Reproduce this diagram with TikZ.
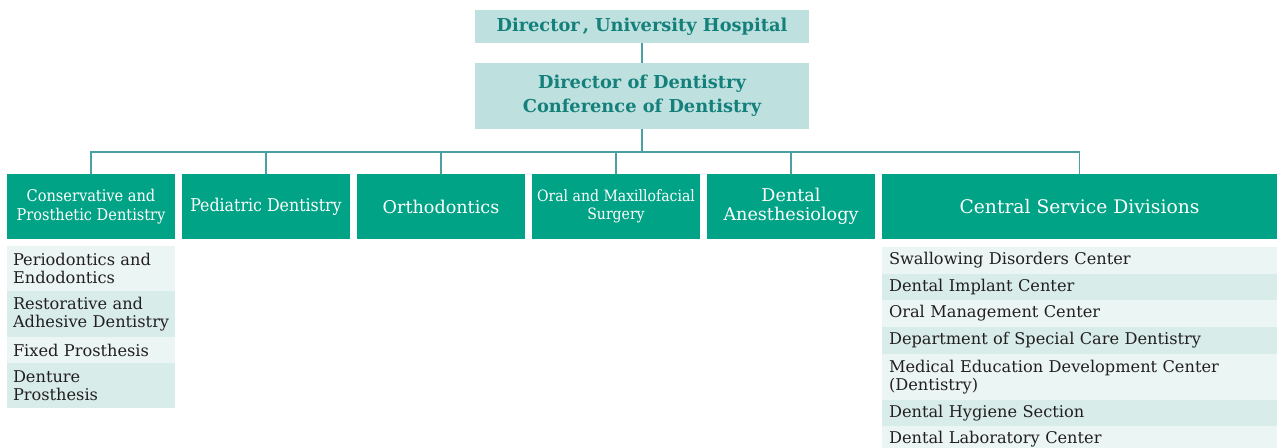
\documentclass[tikz,border=0pt]{standalone}
\usepackage{fontspec}
\setmainfont{DejaVu Serif}
\newfontfamily\condfont{DejaVu Serif Condensed}
\hyphenpenalty=10000
\exhyphenpenalty=10000
\hbadness=10000
\hfuzz=20pt
\definecolor{titlebg}{HTML}{BEE0DE}
\definecolor{titlefg}{HTML}{14807B}
\definecolor{deptbg}{HTML}{00A385}
\definecolor{connc}{HTML}{4AA0A3}
\definecolor{rowa}{HTML}{EBF5F4}
\definecolor{rowb}{HTML}{D8ECE9}
\definecolor{rowtext}{HTML}{231F20}
\tikzset{
  titlebox/.style={fill=titlebg, text=titlefg, font=\bfseries\fontsize{17.8}{24}\selectfont, align=center, inner sep=0pt, minimum width=334pt},
  deptbox/.style={fill=deptbg, text=white, align=center, inner sep=0pt, minimum height=65pt},
  rowbox/.style={inner sep=0pt, text=rowtext, font=\fontsize{16.2}{18.5}\selectfont, align=left},
  conn/.style={draw=connc, line width=1.4pt}
}
\begin{document}
\begin{tikzpicture}[x=1pt,y=-1pt]
\useasboundingbox (0,0) rectangle (1282,447);
\clip (0,0) rectangle (1282,447);
% titles
\node[titlebox, minimum height=33pt] (hosp) at (642,26.5) {Director\,, University Hospital};
\node[titlebox, minimum height=66pt] (dent) at (642,96) {Director of Dentistry\\Conference of Dentistry};
% departments
\node[deptbox, minimum width=168pt, font=\condfont\fontsize{16.2}{18.5}\selectfont] (d1) at (91,206.5) {Conservative and\\Prosthetic Dentistry};
\node[deptbox, minimum width=168pt, font=\condfont\fontsize{17.6}{19}\selectfont] (d2) at (266,206.5) {Pediatric Dentistry};
\node[deptbox, minimum width=168pt, font=\fontsize{17.6}{19}\selectfont] (d3) at (441,206.5) {Orthodontics};
\node[deptbox, minimum width=168pt, font=\condfont\fontsize{15.6}{18.5}\selectfont] (d4) at (616,206.5) {Oral and Maxillofacial\\Surgery};
\node[deptbox, minimum width=168pt, font=\fontsize{17.6}{18.5}\selectfont] (d5) at (791,206.5) {Dental\\Anesthesiology};
\node[deptbox, minimum width=395pt, font=\fontsize{18.7}{20}\selectfont] (d6) at (1079.5,206.5) {Central Service Divisions};
% connectors
\coordinate (bus) at (642,152);
\draw[conn] (hosp) -- (dent);
\draw[conn] (dent) -- (bus);
\draw[conn] (bus) -| (d1.north);
\draw[conn] (bus) -| (d2.north);
\draw[conn] (bus) -| (d3.north);
\draw[conn] (bus) -| (d4.north);
\draw[conn] (bus) -| (d5.north);
\draw[conn] (bus) -| (d6.north);
% left sub-list
\node[rowbox, fill=rowa, minimum width=168pt, minimum height=45pt, text width=156pt] (l1) at (91,268.5) {Periodontics and\\Endodontics};
\node[rowbox, fill=rowb, minimum width=168pt, minimum height=46pt, text width=156pt] (l2) at (91,314) {Restorative and\\\mbox{Adhesive Dentistry}};
\node[rowbox, fill=rowa, minimum width=168pt, minimum height=26pt, text width=156pt] (l3) at (91,350) {Fixed Prosthesis};
\node[rowbox, fill=rowb, minimum width=168pt, minimum height=45pt, text width=156pt] (l4) at (91,385.5) {Denture\\Prosthesis};
% right sub-list
\node[rowbox, fill=rowa, minimum width=395pt, minimum height=27pt, text width=381pt] (r1) at (1079.5,260.5) {Swallowing Disorders Center};
\node[rowbox, fill=rowb, minimum width=395pt, minimum height=26pt, text width=381pt] (r2) at (1079.5,287) {Dental Implant Center};
\node[rowbox, fill=rowa, minimum width=395pt, minimum height=27pt, text width=381pt] (r3) at (1079.5,313.5) {Oral Management Center};
\node[rowbox, fill=rowb, minimum width=395pt, minimum height=27pt, text width=381pt] (r4) at (1079.5,340.5) {Department of Special Care Dentistry};
\node[rowbox, fill=rowa, minimum width=395pt, minimum height=46pt, text width=381pt] (r5) at (1079.5,377) {Medical Education Development Center\\(Dentistry)};
\node[rowbox, fill=rowb, minimum width=395pt, minimum height=26pt, text width=381pt] (r6) at (1079.5,413) {Dental Hygiene Section};
\node[rowbox, fill=rowa, minimum width=395pt, minimum height=26pt, text width=381pt] (r7) at (1079.5,439) {Dental Laboratory Center};
\end{tikzpicture}
\end{document}
